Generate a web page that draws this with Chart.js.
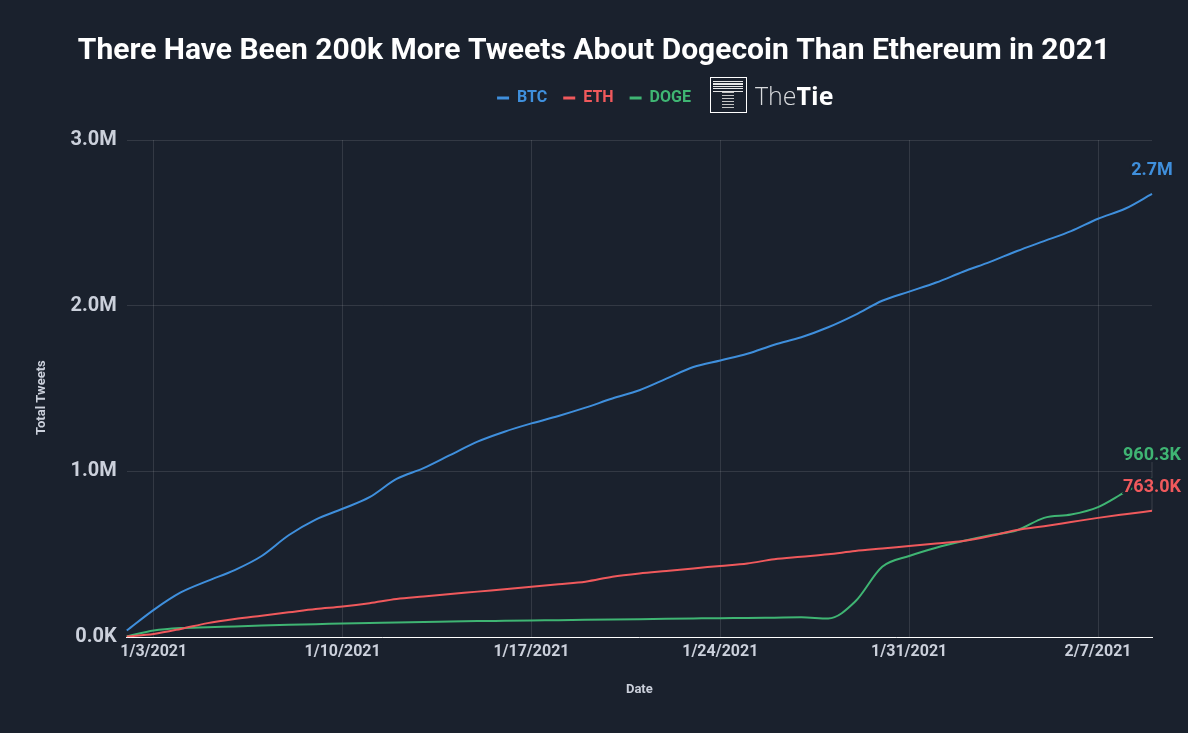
<!DOCTYPE html>
<html>
<head>
<meta charset="utf-8">
<title>Tweets</title>
<script src="https://cdn.jsdelivr.net/npm/chart.js@4"></script>
<style>
    html, body { margin: 0; padding: 0; background: #1a212d; }
    #wrap { position: relative; width: 1188px; height: 733px; overflow: hidden; }
    /* logo de TheTie encima del canvas */
    #logo { position: absolute; left: 710px; top: 77px; height: 36px; display: flex; align-items: center; }
    #logo .box { width: 37px; height: 36px; border: 1px solid #fff; position: relative; box-sizing: border-box; }
    #logo .top { position: absolute; left: 2px; top: 3px; width: 30px; height: 11px;
        background: repeating-linear-gradient(#e8e8e8 0 1px, #1a212d 1px 2.5px); }
    #logo .stem { position: absolute; left: 11px; top: 14px; width: 12px; height: 17px;
        background: repeating-linear-gradient(#c4c4c4 0 1px, #1a212d 1px 3px); }
    #logo .txt { margin-left: 8px; font: 300 25px "Open Sans", sans-serif; color: #d9dbde; }
    #logo .txt b { font-weight: 700; color: #fff; }
</style>
</head>
<body>
<div id="wrap">
    <canvas id="chart" width="1188" height="733"></canvas>
    <div id="logo"><div class="box"><div class="top"></div><div class="stem"></div></div><div class="txt">The<b>Tie</b></div></div>
</div>
<script>
// Datos (miles de tweets acumulados por dia)
const fechas = ['1/2/2021','1/3/2021','1/4/2021','1/5/2021','1/6/2021','1/7/2021','1/8/2021','1/9/2021','1/10/2021',
    '1/11/2021','1/12/2021','1/13/2021','1/14/2021','1/15/2021','1/16/2021','1/17/2021','1/18/2021','1/19/2021',
    '1/20/2021','1/21/2021','1/22/2021','1/23/2021','1/24/2021','1/25/2021','1/26/2021','1/27/2021','1/28/2021',
    '1/29/2021','1/30/2021','1/31/2021','2/1/2021','2/2/2021','2/3/2021','2/4/2021','2/5/2021','2/6/2021',
    '2/7/2021','2/8/2021','2/9/2021'];
const btc = [40,165,270,340,405,490,615,710,775,845,955,1020,1100,1180,1240,1290,1335,1385,1440,1490,1560,1630,
    1670,1710,1765,1810,1870,1945,2030,2085,2140,2205,2265,2330,2390,2450,2525,2585,2675];
const eth = [5,20,50,85,110,130,150,170,185,205,230,245,260,275,290,305,320,335,365,385,400,415,430,445,470,485,
    500,520,535,550,565,580,610,647,670,695,720,742,763];
const doge = [5,40,55,60,65,70,75,78,83,86,88,92,94,97,99,101,103,105,107,109,111,113,115,116,118,120,113,215,425,
    490,540,580,615,645,720,740,785,875,960.3];
const ticksY = [0,1000,2000,3000];
const ticksX = ['1/3/2021','1/10/2021','1/17/2021','1/24/2021','1/31/2021','2/7/2021'];

const FONDO = '#1a212d';
const AZUL = '#3f8fdc';
const ROJO = '#f0595c';
const VERDE = '#3fb573';
const GRIS = '#cbd0db';

function formato(v) {
    return v >= 1000 ? (v / 1000).toFixed(1) + 'M' : v.toFixed(1) + 'K';
}

// Etiquetas al final de cada linea y titulo del eje Y (va algo por debajo del centro)
const etiquetasFinales = {
    id: 'etiquetasFinales',
    afterDatasetsDraw(chart) {
        const ctx = chart.ctx;
        const ultimo = fechas.length - 1;
        const x = chart.scales.x.getPixelForValue(ultimo);
        const y = chart.scales.y;
        ctx.save();
        ctx.strokeStyle = 'rgba(255,255,255,0.14)';
        ctx.lineWidth = 1;
        ctx.beginPath();
        ctx.moveTo(x, y.getPixelForValue(doge[ultimo]) - 16);
        ctx.lineTo(x, y.getPixelForValue(eth[ultimo]));
        ctx.stroke();
        ctx.font = 'bold 18px Roboto';
        ctx.textAlign = 'center';
        ctx.textBaseline = 'middle';
        chart.data.datasets.forEach(ds => {
            const v = ds.data[ultimo];
            const py = y.getPixelForValue(v) - 23;
            ctx.strokeStyle = FONDO;
            ctx.lineWidth = 4;
            ctx.strokeText(formato(v), x, py);
            ctx.fillStyle = ds.borderColor;
            ctx.fillText(formato(v), x, py);
        });
        ctx.translate(42, (chart.chartArea.top + chart.chartArea.bottom) / 2 + 9);
        ctx.rotate(-Math.PI / 2);
        ctx.font = 'bold 13px Roboto';
        ctx.fillStyle = GRIS;
        ctx.fillText('Total Tweets', 0, 0);
        ctx.restore();
    }
};

// Deja mas aire debajo de la leyenda
const margenLeyenda = {
    id: 'margenLeyenda',
    beforeInit(chart) {
        const fitOriginal = chart.legend.fit;
        chart.legend.fit = function() {
            fitOriginal.call(this);
            this.height += 24;
        };
    }
};

const serie = (label, data, color) => ({
    label, data,
    borderColor: color,
    backgroundColor: color,
    borderWidth: 2,
    pointRadius: 0,
    cubicInterpolationMode: 'monotone'
});

new Chart(document.getElementById('chart'), {
    type: 'line',
    data: {
        labels: fechas,
        datasets: [serie('BTC', btc, AZUL), serie('ETH', eth, ROJO), serie('DOGE', doge, VERDE)]
    },
    options: {
        responsive: false,
        animation: false,
        layout: { padding: { left: 36, right: 36, top: 33, bottom: 35 } },
        plugins: {
            title: {
                display: true,
                text: 'There Have Been 200k More Tweets About Dogecoin Than Ethereum in 2021',
                color: '#ffffff',
                font: { family: 'Roboto', size: 30, weight: 'bold' },
                padding: { top: 0, bottom: 5 }
            },
            legend: {
                labels: {
                    usePointStyle: true,
                    pointStyle: 'line',
                    pointStyleWidth: 12,
                    font: { family: 'Roboto', size: 16, weight: 'bold' },
                    boxWidth: 12,
                    padding: 16,
                    generateLabels(chart) {
                        return chart.data.datasets.map((ds, i) => ({
                            text: ds.label,
                            fontColor: ds.borderColor,
                            strokeStyle: ds.borderColor,
                            fillStyle: ds.borderColor,
                            lineWidth: 3,
                            pointStyle: 'line',
                            datasetIndex: i
                        }));
                    }
                }
            },
            tooltip: { enabled: false }
        },
        scales: {
            x: {
                afterBuildTicks(scale) {
                    scale.ticks = ticksX.map(f => ({ value: fechas.indexOf(f) }));
                },
                ticks: {
                    autoSkip: false,
                    maxRotation: 0,
                    color: GRIS,
                    font: { family: 'Roboto', size: 16, weight: 'bold' },
                    padding: 5
                },
                grid: { color: 'rgba(255,255,255,0.11)', drawTicks: false },
                border: { color: '#ffffff', width: 1 },
                title: {
                    display: true,
                    text: 'Date',
                    color: GRIS,
                    font: { family: 'Roboto', size: 13, weight: 'bold' },
                    padding: { top: 16, bottom: 0 }
                }
            },
            y: {
                min: 0,
                max: 3000,
                afterBuildTicks(scale) {
                    scale.ticks = ticksY.map(v => ({ value: v }));
                },
                // hueco para el titulo del eje Y
                afterFit(scale) {
                    scale.width += 24.5;
                },
                ticks: {
                    color: GRIS,
                    font: { family: 'Roboto', size: 20, weight: 'bold' },
                    padding: 10,
                    callback: v => formato(v)
                },
                grid: { color: 'rgba(255,255,255,0.11)', drawTicks: false },
                border: { display: false }
            }
        }
    },
    plugins: [etiquetasFinales, margenLeyenda]
});
</script>
</body>
</html>
